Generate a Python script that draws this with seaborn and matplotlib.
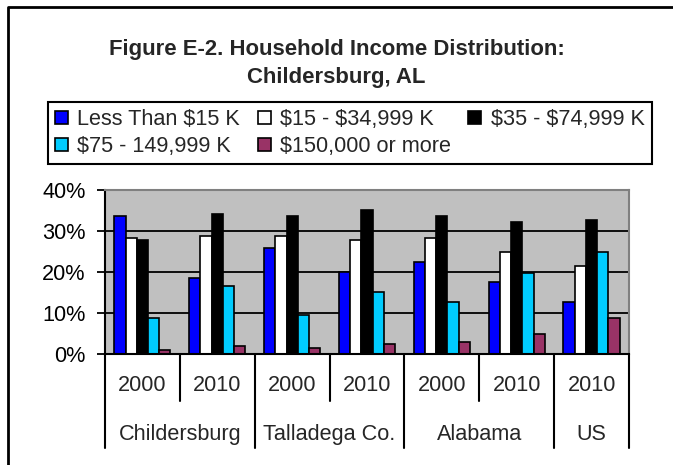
import matplotlib
matplotlib.use("Agg")
import matplotlib.pyplot as plt
import matplotlib.transforms as mtransforms
from matplotlib.patches import Patch
from matplotlib.lines import Line2D
from matplotlib.ticker import MultipleLocator, FuncFormatter
import seaborn as sns
import pandas as pd

# ---- data ----
regions = ["Childersburg", "Childersburg", "Talladega Co.", "Talladega Co.",
           "Alabama", "Alabama", "US"]
years = ["2000", "2010", "2000", "2010", "2000", "2010", "2010"]
brackets = ["Less Than $15 K", "$15 - $34,999 K", "$35 - $74,999 K",
            "$75 - 149,999 K", "$150,000 or more"]
less_15 = [33.7, 18.5, 25.9, 19.9, 22.5, 17.6, 12.6]
b15_35 = [28.2, 28.8, 28.8, 27.8, 28.3, 24.9, 21.5]
b35_75 = [27.8, 34.2, 33.7, 35.2, 33.7, 32.3, 32.8]
b75_150 = [8.8, 16.6, 9.6, 15.0, 12.6, 19.8, 24.9]
b150_up = [1.0, 2.0, 1.5, 2.4, 2.9, 4.9, 8.8]
colors = ["#0000FF", "#FFFFFF", "#000000", "#00CCFF", "#993366"]

series = [less_15, b15_35, b35_75, b75_150, b150_up]
cats = [f"{r}|{y}" for r, y in zip(regions, years)]
rows = []
for b, vals in zip(brackets, series):
    for c, v in zip(cats, vals):
        rows.append({"cat": c, "bracket": b, "value": v})
df = pd.DataFrame(rows)

sns.set_theme(style="white")
plt.rcParams["font.family"] = ["Liberation Sans", "DejaVu Sans"]

FS = 15.6
fig = plt.figure(figsize=(6.73, 4.65), dpi=100)
W, H = 673.0, 465.0
left, right, top, bottom = 105, 629, 190, 354
ax = fig.add_axes([left / W, 1 - bottom / H, (right - left) / W, (bottom - top) / H])

sns.barplot(data=df, x="cat", y="value", hue="bracket", order=cats,
            hue_order=brackets, palette=colors, width=0.75, saturation=1,
            edgecolor="black", linewidth=1.2, errorbar=None, legend=False, ax=ax)

ax.set_facecolor("#C0C0C0")
ax.set_ylim(0, 40)
ax.set_xlim(-0.5, len(cats) - 0.5)
ax.yaxis.set_major_locator(MultipleLocator(10))
ax.yaxis.set_major_formatter(FuncFormatter(lambda v, p: f"{v:.0f}%"))
ax.grid(axis="y", color="black", lw=1.3)
ax.grid(axis="x", visible=False)
ax.set_axisbelow(True)
ax.set_xticks([])
ax.set_xlabel("")
ax.set_ylabel("")
ax.tick_params(axis="y", left=True, length=6, width=1.3, pad=8,
               labelsize=FS, direction="out", color="black", labelcolor="black")
for s in ["left", "bottom"]:
    ax.spines[s].set_color("black")
    ax.spines[s].set_linewidth(1.5)
for s in ["top", "right"]:
    ax.spines[s].set_color("#808080")
    ax.spines[s].set_linewidth(1.5)

# two-tier category axis
trans = mtransforms.blended_transform_factory(ax.transData, ax.transAxes)
for i, y in enumerate(years):
    ax.text(i, -0.193, y, transform=trans, ha="center", va="center", fontsize=FS)
uniq = []
for r in regions:
    if r not in uniq:
        uniq.append(r)
bounds = [-0.5]
for r in uniq:
    idx = [i for i, rr in enumerate(regions) if rr == r]
    ax.text(sum(idx) / len(idx), -0.488, r, transform=trans, ha="center",
            va="center", fontsize=FS)
    bounds.append(max(idx) + 0.5)
    for k in idx[:-1]:
        ax.plot([k + 0.5, k + 0.5], [0, -0.285], transform=trans,
                clip_on=False, color="black", lw=1.5)
for b in bounds:
    ax.plot([b, b], [0, -0.573], transform=trans, clip_on=False,
            color="black", lw=1.5)

# title
fig.text(0.5, 1 - 50 / H, "Figure E-2. Household Income Distribution:",
         ha="center", va="center", fontsize=15.9, fontweight="bold")
fig.text(0.5, 1 - 78 / H, "Childersburg, AL",
         ha="center", va="center", fontsize=15.9, fontweight="bold")

# legend (row-major order like the reference)
handles = [Patch(facecolor=c, edgecolor="black", lw=1.2,
                 label=b.replace("$", r"\$"))
           for c, b in zip(colors, brackets)]
order = [0, 3, 1, 4, 2]
leg = fig.legend(handles=[handles[i] for i in order], loc="upper left",
                 bbox_to_anchor=(48 / W, 1 - 102 / H), ncol=3, fontsize=FS,
                 frameon=True, fancybox=False, edgecolor="black", framealpha=1,
                 borderpad=0.33, handlelength=0.6, handleheight=0.6,
                 handletextpad=0.43, columnspacing=0.8, labelspacing=0.28,
                 borderaxespad=0)
leg.get_frame().set_linewidth(1.5)

# outer chart border (cropped at right / bottom)
fig.add_artist(Line2D([7.5 / W, 7.5 / W, 1.0], [0, 1 - 7.5 / H, 1 - 7.5 / H],
                      transform=fig.transFigure, color="black", lw=2))

fig.savefig("out.png", dpi=100, facecolor="white")
